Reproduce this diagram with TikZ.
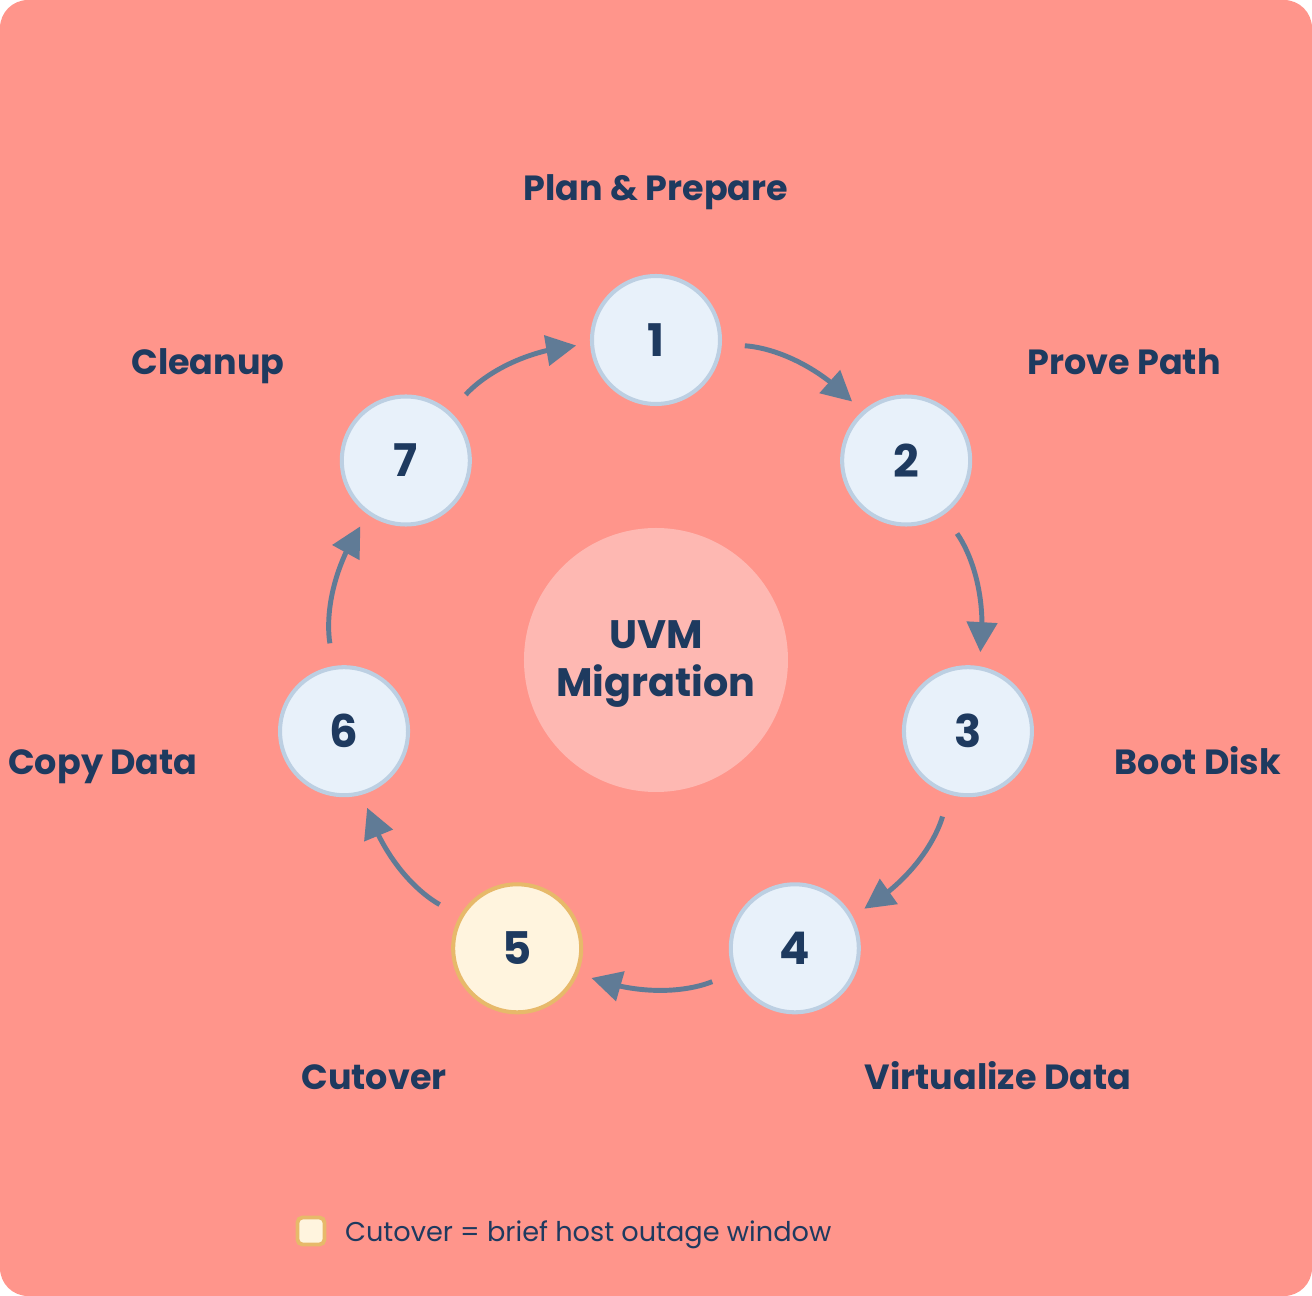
\documentclass[tikz,border=0pt]{standalone}
\usepackage{fontspec}
\setmainfont{Poppins}
\usetikzlibrary{arrows.meta,bending,positioning}
\definecolor{bgred}{HTML}{FF958B}
\definecolor{hubpink}{HTML}{FEB8B2}
\definecolor{stepfill}{HTML}{E8F1FA}
\definecolor{stepline}{HTML}{BCCFE2}
\definecolor{cutfill}{HTML}{FFF4DE}
\definecolor{cutline}{HTML}{E7B96A}
\definecolor{ink}{HTML}{1E3A5F}
\definecolor{arrowblue}{HTML}{607B96}
\begin{document}
\begin{tikzpicture}[
  stepnode/.style={circle,draw=stepline,fill=stepfill,line width=1.15pt,minimum size=1.28cm,inner sep=0pt,font=\bfseries\fontsize{12.8}{14}\selectfont,text=ink},
  cutnode/.style={stepnode,draw=cutline,fill=cutfill},
  phase/.style={font=\bfseries\fontsize{9.95}{12}\selectfont,text=ink,text height=0.75em,text depth=0.25em,yshift=-0.035cm},
  flow/.style={draw=arrowblue,line width=1.4pt,-{Triangle[length=0.3cm,width=0.3cm,flex]},shorten <=0.23cm,shorten >=0.14cm}
]
\useasboundingbox (-6.56,-6.36) rectangle (6.56,6.60);
\fill[white] (-6.56,-6.36) rectangle (6.56,6.60);
\fill[bgred,rounded corners=0.28cm] (-6.56,-6.36) rectangle (6.56,6.60);
% centre
\node[circle,fill=hubpink,minimum size=2.64cm,label={[align=center,text=ink,yshift=-0.04cm,font=\bfseries\fontsize{11.3}{13.4}\selectfont]center:UVM\\Migration}] (hub) at (0,0) {};
% the seven steps on the ring
\node[stepnode] (s1) at (90:3.2) {1};
\node[stepnode] (s2) at (38.57:3.2) {2};
\node[stepnode] (s3) at (-12.86:3.2) {3};
\node[stepnode] (s4) at (-64.29:3.2) {4};
\node[cutnode] (s5) at (-115.71:3.2) {5};
\node[stepnode] (s6) at (-167.14:3.2) {6};
\node[stepnode] (s7) at (141.43:3.2) {7};
\foreach \a/\b in {1/2,2/3,3/4,4/5,5/6,6/7,7/1}
  \draw[flow] (s\a) to[bend left=22] (s\b);
% phase names
\node[phase] (l1) at (0,4.72) {Plan \& Prepare};
\node[phase] (l2) at (4.68,2.98) {Prove Path};
\node[phase] (l3) at (5.42,-1.02) {Boot Disk};
\node[phase] (l4) at (3.42,-4.17) {Virtualize Data};
\node[phase] (l5) at (-2.82,-4.17) {Cutover};
\node[phase] (l6) at (-5.53,-1.02) {Copy Data};
\node[phase] (l7) at (-4.48,2.98) {Cleanup};
% legend
\node[draw=cutline,fill=cutfill,line width=1.1pt,rounded corners=0.05cm,minimum size=0.27cm,inner sep=0pt] (key) at (-3.45,-5.71) {};
\node[right=0.18cm of key,yshift=-0.04cm,text=ink,font=\fontsize{7.73}{10}\selectfont,inner sep=0pt] (keytext) {Cutover = brief host outage window};
\end{tikzpicture}
\end{document}
